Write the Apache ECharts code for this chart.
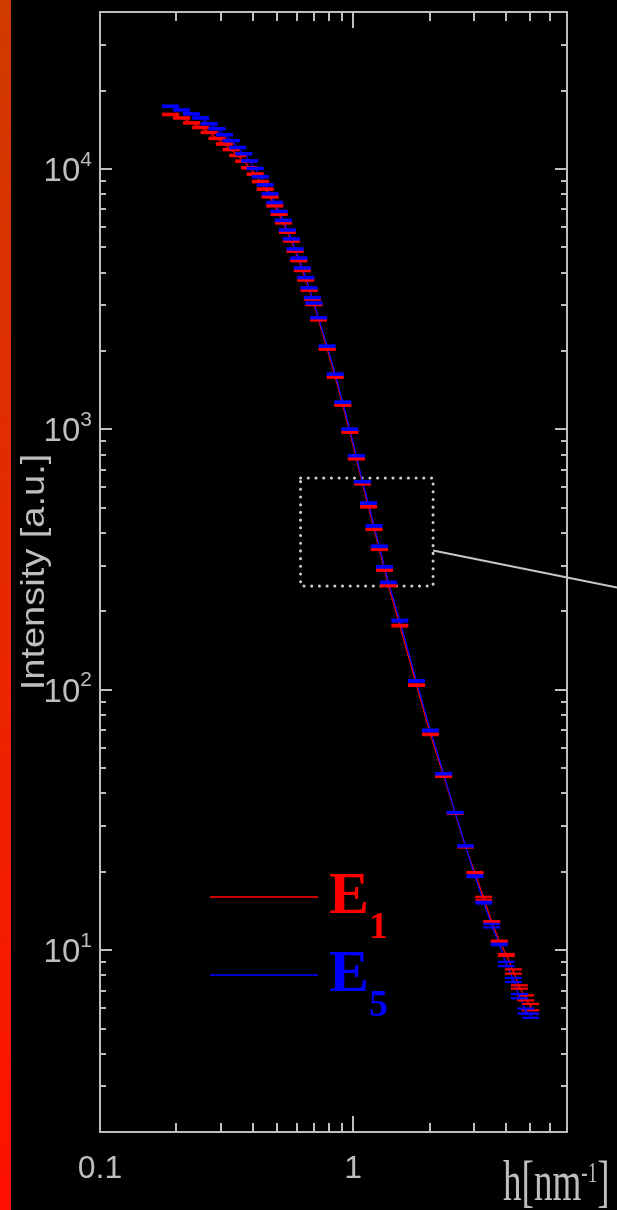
<!DOCTYPE html>
<html><head><meta charset="utf-8">
<script src="https://cdn.jsdelivr.net/npm/echarts@6/dist/echarts.min.js"></script>
<style>html,body{margin:0;padding:0;background:#000;}#c{width:617px;height:1210px;}</style>
</head><body><div id="c"></div>
<script>
// ---- data ----
const hValues = [0.19,0.21,0.23,0.25,0.27,0.29,0.31,0.33,0.35,0.37,0.39,0.41,0.43,0.45,0.47,0.49,0.51,0.53,0.55,0.57,0.59,0.61,0.63,0.65,0.67,0.69,
  0.70,0.73,0.79,0.85,0.91,0.97,1.03,1.09,1.15,1.21,1.27,1.33,1.38,
  1.53,1.78,2.02,2.28,2.53,2.78,3.03,3.28,3.53,3.78,4.03,4.30,4.54,4.81,5.03];
const intensityE1 = [16170,15670,15000,14400,13790,13080,12450,11850,11250,10690,10090,9540,8930,8350,7800,7210,6690,6200,5710,5280,4830,4440,4070,3740,3420,3160,
  3010,2630,2030,1585,1237,974,770,617,504,413,346,288,251,
  176,104,67.3,46.5,33.5,24.9,19.8,15.8,12.8,10.8,9.57,8.27,7.21,6.55,6.04];
const intensityE5 = [17390,16830,16250,15670,14900,14250,13520,12820,12060,11420,10720,10030,9320,8670,8010,7420,6860,6340,5820,5380,4920,4540,4160,3820,3490,3200,
  3050,2680,2085,1627,1270,1000,791,628,520,425,355,296,258,
  184,108,69.7,47.5,33.7,25.1,19.2,15.2,12.4,10.5,8.84,7.67,6.65,5.83,5.59];
// relative error (fraction of intensity)
const errE1 = [0.006,0.006,0.006,0.006,0.006,0.006,0.006,0.006,0.006,0.006,0.006,0.006,0.006,0.006,0.006,0.006,0.006,0.006,0.006,0.006,0.006,0.006,0.006,0.006,0.006,0.006,
  0.006,0.006,0.006,0.006,0.006,0.006,0.006,0.006,0.007,0.007,0.007,0.007,0.007,
  0.007,0.007,0.007,0.006,0.006,0.006,0.006,0.013,0.008,0.006,0.009,0.019,0.015,0.022,0.028];
const errE5 = [0.006,0.006,0.006,0.006,0.006,0.006,0.006,0.006,0.006,0.006,0.006,0.006,0.006,0.006,0.006,0.006,0.006,0.006,0.006,0.006,0.006,0.006,0.006,0.006,0.006,0.006,
  0.006,0.006,0.006,0.006,0.006,0.006,0.006,0.006,0.007,0.007,0.007,0.007,0.007,
  0.008,0.007,0.007,0.006,0.006,0.006,0.008,0.008,0.016,0.007,0.019,0.018,0.019,0.022,0.018];
const seriesNames = ['E1', 'E5'];
const xTickLabels = [0.1, 1];
const xMajorTicks = [1];
const xMinorTicks = [0.2,0.3,0.4,0.5,0.6,0.7,0.8,0.9,2,3,4,5,6];
const yMajorTicks = [10,100,1000,10000];
const yMinorTicks = [3,4,5,6,7,8,9,20,30,40,50,60,70,80,90,200,300,400,500,600,700,800,900,2000,3000,4000,5000,6000,7000,8000,9000,20000,30000];
const insetH = [0.62, 2.07];
const insetI = [250, 650];
const leaderAnchor = [2.07, 342];

// ---- styling ----
const GRAY = '#bebebe';
const SANS = "'Liberation Sans Narrow', 'Liberation Sans', Arial, sans-serif";
const SERIF = "'Liberation Serif', 'Times New Roman', serif";
const RED = '#ff0000', BLUE = '#0000ff';

const chart = echarts.init(document.getElementById('c'), null, {renderer: 'canvas'});

function xAxisDef(position, ticks, len, withLine, labels) {
  return {
    type: 'log', logBase: 10, position: position, min: 0.1, max: 7,
    axisLine: {show: withLine, lineStyle: {color: GRAY, width: 2}},
    axisTick: {show: true, inside: true, length: len, customValues: ticks, lineStyle: {color: GRAY, width: 2}},
    axisLabel: labels ? {show: true, customValues: labels, margin: 21, color: GRAY, fontSize: 32, fontFamily: SANS,
      formatter: v => (Math.abs(v - 0.1) < 1e-9 ? '0.1' : String(Math.round(v)))} : {show: false},
    splitLine: {show: false}, minorTick: {show: false}
  };
}
function yAxisDef(position, ticks, len, withLine, labels) {
  return {
    type: 'log', logBase: 10, position: position, min: 2, max: 40000,
    axisLine: {show: withLine, lineStyle: {color: GRAY, width: 2}},
    axisTick: {show: true, inside: true, length: len, customValues: ticks, lineStyle: {color: GRAY, width: 2}},
    axisLabel: labels ? {show: true, customValues: labels, margin: 8,
      formatter: v => '{b|10}{s|' + Math.round(Math.log10(v)) + '}',
      rich: {
        b: {fontSize: 33, color: GRAY, fontFamily: SANS, lineHeight: 34, padding: [6, 0, 0, 0]},
        s: {fontSize: 21, color: GRAY, fontFamily: SANS, lineHeight: 21, padding: [0, 0, 18, 0]}
      }} : {show: false},
    splitLine: {show: false}, minorTick: {show: false}
  };
}

function errRender(color) {
  return function (params, api) {
    const x = api.value(0), y = api.value(1), e = api.value(2);
    const c = api.coord([x, y]);
    const t = api.coord([x, y * (1 + e)]);
    const b = api.coord([x, y * (1 - e)]);
    const hw = 8.5;
    return {type: 'group', children: [
      {type: 'line', shape: {x1: c[0], y1: t[1], x2: c[0], y2: b[1]}, style: {stroke: color, lineWidth: 1.5}},
      {type: 'line', shape: {x1: c[0] - hw, y1: t[1], x2: c[0] + hw, y2: t[1]}, style: {stroke: color, lineWidth: 2.2}},
      {type: 'line', shape: {x1: c[0] - hw, y1: b[1], x2: c[0] + hw, y2: b[1]}, style: {stroke: color, lineWidth: 2.2}}
    ]};
  };
}

const intensities = [intensityE1, intensityE5];
const errs = [errE1, errE5];
const colors = [RED, BLUE];

const series = [];
seriesNames.forEach((name, k) => {
  series.push({
    name: name, type: 'line', xAxisIndex: 0, yAxisIndex: 0,
    data: hValues.map((h, i) => [h, intensities[k][i]]),
    showSymbol: false, symbol: 'none', color: colors[k],
    lineStyle: {color: colors[k], width: 1.3}, z: 2, silent: true
  });
});
seriesNames.forEach((name, k) => {
  series.push({
    name: name, type: 'custom', xAxisIndex: 0, yAxisIndex: 0,
    data: hValues.map((h, i) => [h, intensities[k][i], errs[k][i]]),
    encode: {x: 0, y: 1}, renderItem: errRender(colors[k]), z: 3 + k, silent: true
  });
});
series[1].markArea = {
  silent: true,
  itemStyle: {color: 'rgba(0,0,0,0)', borderColor: '#cccccc', borderWidth: 3, borderType: [0.1, 7.6], borderCap: 'round'},
  label: {show: false},
  data: [[{coord: [insetH[0], insetI[1]]}, {coord: [insetH[1], insetI[0]]}]]
};

function legendDef(name, top, color, lineColor, sub) {
  return {
    show: true, orient: 'vertical', left: 210, top: top, padding: 0,
    icon: 'rect', itemWidth: 108, itemHeight: 2, selectedMode: false,
    data: [{name: name, itemStyle: {color: lineColor}}],
    formatter: () => '{e|E}{s|' + sub + '}',
    textStyle: {rich: {
      e: {color: color, fontFamily: SERIF, fontWeight: 'bold', fontSize: 60, lineHeight: 60, padding: [0, 0, 0, 6], verticalAlign: 'middle'},
      s: {color: color, fontFamily: SERIF, fontWeight: 'bold', fontSize: 38, lineHeight: 38, padding: [62, 0, 0, 0], verticalAlign: 'middle'}
    }}
  };
}

const option = {
  backgroundColor: '#000000',
  animation: false,
  grid: {left: 100, right: 50, top: 12, bottom: 78, containLabel: false},
  xAxis: [
    xAxisDef('bottom', xMajorTicks, 16, true, xTickLabels),
    xAxisDef('bottom', xMinorTicks, 9, false, null),
    xAxisDef('top', xMajorTicks, 16, true, null),
    xAxisDef('top', xMinorTicks, 9, false, null)
  ],
  yAxis: [
    yAxisDef('left', yMajorTicks, 12, true, yMajorTicks),
    yAxisDef('left', yMinorTicks, 6, false, null),
    yAxisDef('right', yMajorTicks, 12, true, null),
    yAxisDef('right', yMinorTicks, 6, false, null)
  ],
  legend: [
    legendDef('E1', 847, RED, '#c80000', '1'),
    legendDef('E5', 925, BLUE, '#0000c8', '5')
  ],
  series: series,
  graphic: {elements: [
    {id: 'strip', type: 'rect', left: 0, top: 0, z: -1, shape: {x: 0, y: 0, width: 11, height: 1210},
      style: {fill: {type: 'linear', x: 0, y: 0, x2: 0, y2: 1, colorStops: [
        {offset: 0, color: '#d03a00'}, {offset: 0.5, color: '#e82800'}, {offset: 1, color: '#ff1000'}]}}},
    {id: 'ytitle', type: 'text', x: 35, y: 572, rotation: Math.PI / 2, scaleY: 0.86,
      style: {text: 'Intensity [a.u.]', fill: GRAY, fontSize: 38, fontFamily: "'Liberation Sans', Arial, sans-serif",
        align: 'center', verticalAlign: 'middle', textAlign: 'center', textVerticalAlign: 'middle'}},
    {id: 'xtitle', type: 'text', x: 503, y: 1185, scaleX: 0.64,
      style: {text: '{a|h[nm}{s|-1}{a|]}', verticalAlign: 'middle', textVerticalAlign: 'middle',
        rich: {
          a: {fontSize: 58, fontFamily: SERIF, fill: GRAY, lineHeight: 58, verticalAlign: 'middle'},
          s: {fontSize: 30, fontFamily: SERIF, fill: GRAY, lineHeight: 30, padding: [0, 0, 22, 0], verticalAlign: 'middle'}
        }}}
  ]}
};
chart.setOption(option);

const p = chart.convertToPixel({xAxisIndex: 0, yAxisIndex: 0}, leaderAnchor);
chart.setOption({graphic: {elements: [
  {id: 'leader', type: 'line', shape: {x1: p[0], y1: p[1], x2: 617, y2: p[1] + 37},
    style: {stroke: '#c8c8c8', lineWidth: 2}, z: 10}
]}});
</script>
</body></html>
